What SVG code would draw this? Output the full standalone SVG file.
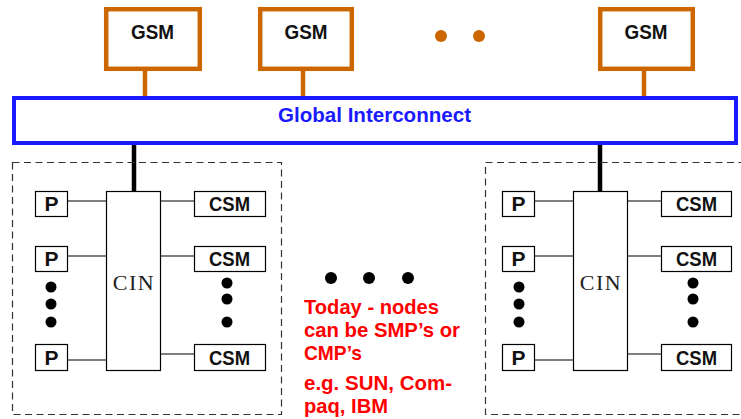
<svg xmlns="http://www.w3.org/2000/svg" width="741" height="419" viewBox="0 0 741 419">
  <style>
    .gsm { fill: #fff; stroke: #cc6600; stroke-width: 4.5; }
    .box { fill: #fff; stroke: #000; stroke-width: 1.2; }
    .node { fill: none; stroke: #333; stroke-width: 1.2; stroke-dasharray: 7 4.5; }
    .lbl { font-family: "Liberation Sans", Arial, sans-serif; font-weight: bold; font-size: 21px; fill: #111; text-anchor: middle; }
    .cin { font-family: "Liberation Serif", "Times New Roman", serif; font-size: 22px; letter-spacing: 1.5px; fill: #222; text-anchor: middle; }
    .thin { stroke: #000; stroke-width: 1.2; }
    .note { font-family: "Liberation Sans", Arial, sans-serif; font-weight: bold; font-size: 21px; fill: #ff0000; }
  </style>

  <!-- links -->
  <g id="connectors">
    <g stroke="#cc6600" stroke-width="4.5">
      <line x1="145" y1="71" x2="145" y2="98"/>
      <line x1="303" y1="71" x2="303" y2="98"/>
      <line x1="644" y1="71" x2="644" y2="98"/>
    </g>
    <g stroke="#000" stroke-width="4.5">
      <line x1="134" y1="145" x2="134" y2="191"/>
      <line x1="600" y1="145" x2="600" y2="191"/>
    </g>
  </g>

  <!-- global shared memories -->
  <g id="gsm1">
    <rect class="gsm" x="106.2" y="9.2" width="93.6" height="59.6"/>
    <text class="lbl" x="152.5" y="39" textLength="43" lengthAdjust="spacingAndGlyphs">GSM</text>
  </g>
  <g id="gsm2">
    <rect class="gsm" x="260.2" y="9.2" width="91.6" height="59.6"/>
    <text class="lbl" x="306" y="39" textLength="43" lengthAdjust="spacingAndGlyphs">GSM</text>
  </g>
  <g id="gsm-more" fill="#cc6600">
    <circle cx="441" cy="36" r="6"/>
    <circle cx="479" cy="36" r="6"/>
  </g>
  <g id="gsm3">
    <rect class="gsm" x="600.2" y="9.2" width="92.6" height="59.6"/>
    <text class="lbl" x="646" y="39" textLength="43" lengthAdjust="spacingAndGlyphs">GSM</text>
  </g>

  <!-- interconnect -->
  <g id="global-interconnect">
    <rect x="14" y="98" width="722" height="45" fill="#fff" stroke="#1a1aff" stroke-width="4"/>
    <text class="lbl" x="374.5" y="122" textLength="193" lengthAdjust="spacingAndGlyphs" style="fill:#1a1aff">Global Interconnect</text>
  </g>

  <!-- cluster node (left) -->
  <g id="node-left">
    <rect class="node" x="12.5" y="162.5" width="269" height="252"/>
    <g class="thin">
      <line x1="68" y1="201" x2="106" y2="201"/>
      <line x1="68" y1="256" x2="106" y2="256"/>
      <line x1="68" y1="360" x2="106" y2="360"/>
      <line x1="161" y1="201" x2="194" y2="201"/>
      <line x1="161" y1="256" x2="194" y2="256"/>
      <line x1="161" y1="354" x2="194" y2="354"/>
    </g>
    <rect class="box" x="35.5" y="191.5" width="32" height="25"/>
    <text class="lbl" x="51.5" y="211">P</text>
    <rect class="box" x="35.5" y="246.5" width="32" height="25"/>
    <text class="lbl" x="51.5" y="266">P</text>
    <rect class="box" x="35.5" y="344.5" width="32" height="26"/>
    <text class="lbl" x="51.5" y="364.5">P</text>
    <rect class="box" x="106.5" y="191.5" width="54" height="179"/>
    <text class="cin" x="134" y="290">CIN</text>
    <rect class="box" x="194.5" y="191.5" width="71" height="25"/>
    <text class="lbl" x="229.5" y="211" textLength="41" lengthAdjust="spacingAndGlyphs">CSM</text>
    <rect class="box" x="194.5" y="246.5" width="71" height="25"/>
    <text class="lbl" x="229.5" y="266" textLength="41" lengthAdjust="spacingAndGlyphs">CSM</text>
    <rect class="box" x="194.5" y="344.5" width="71" height="26"/>
    <text class="lbl" x="229.5" y="364.5" textLength="41" lengthAdjust="spacingAndGlyphs">CSM</text>
    <g fill="#000">
      <circle cx="51" cy="287" r="5.5"/>
      <circle cx="51" cy="304" r="5.5"/>
      <circle cx="51" cy="322" r="5.5"/>
      <circle cx="227" cy="283" r="5.5"/>
      <circle cx="227" cy="299" r="5.5"/>
      <circle cx="227" cy="322" r="5.5"/>
    </g>
  </g>

  <!-- cluster node (right) -->
  <g id="node-right" transform="translate(467 0)">
    <rect class="node" x="18.5" y="162.5" width="300" height="252"/>
    <g class="thin">
      <line x1="68" y1="201" x2="106" y2="201"/>
      <line x1="68" y1="256" x2="106" y2="256"/>
      <line x1="68" y1="360" x2="106" y2="360"/>
      <line x1="161" y1="201" x2="194" y2="201"/>
      <line x1="161" y1="256" x2="194" y2="256"/>
      <line x1="161" y1="354" x2="194" y2="354"/>
    </g>
    <rect class="box" x="35.5" y="191.5" width="32" height="25"/>
    <text class="lbl" x="51.5" y="211">P</text>
    <rect class="box" x="35.5" y="246.5" width="32" height="25"/>
    <text class="lbl" x="51.5" y="266">P</text>
    <rect class="box" x="35.5" y="344.5" width="32" height="26"/>
    <text class="lbl" x="51.5" y="364.5">P</text>
    <rect class="box" x="106.5" y="191.5" width="54" height="179"/>
    <text class="cin" x="134" y="290">CIN</text>
    <rect class="box" x="194.5" y="191.5" width="70" height="25"/>
    <text class="lbl" x="229.5" y="211" textLength="41" lengthAdjust="spacingAndGlyphs">CSM</text>
    <rect class="box" x="194.5" y="246.5" width="70" height="25"/>
    <text class="lbl" x="229.5" y="266" textLength="41" lengthAdjust="spacingAndGlyphs">CSM</text>
    <rect class="box" x="194.5" y="344.5" width="70" height="26"/>
    <text class="lbl" x="229.5" y="364.5" textLength="41" lengthAdjust="spacingAndGlyphs">CSM</text>
    <g fill="#000">
      <circle cx="52" cy="287" r="5.5"/>
      <circle cx="52" cy="304" r="5.5"/>
      <circle cx="52" cy="322" r="5.5"/>
      <circle cx="226" cy="283" r="5.5"/>
      <circle cx="226" cy="299" r="5.5"/>
      <circle cx="226" cy="322" r="5.5"/>
    </g>
  </g>

  <!-- more nodes -->
  <g id="node-more" fill="#000">
    <circle cx="331" cy="278" r="6"/>
    <circle cx="369" cy="278" r="6"/>
    <circle cx="408" cy="278" r="6"/>
  </g>

  <g id="note">
    <text class="note" x="304" y="314" textLength="135" lengthAdjust="spacingAndGlyphs">Today - nodes</text>
    <text class="note" x="304" y="337" textLength="156" lengthAdjust="spacingAndGlyphs">can be SMP’s or</text>
    <text class="note" x="304" y="360" textLength="58" lengthAdjust="spacingAndGlyphs">CMP’s</text>
    <text class="note" x="304" y="390" textLength="148" lengthAdjust="spacingAndGlyphs">e.g. SUN, Com-</text>
    <text class="note" x="304" y="413" textLength="84" lengthAdjust="spacingAndGlyphs">paq, IBM</text>
  </g>
</svg>
